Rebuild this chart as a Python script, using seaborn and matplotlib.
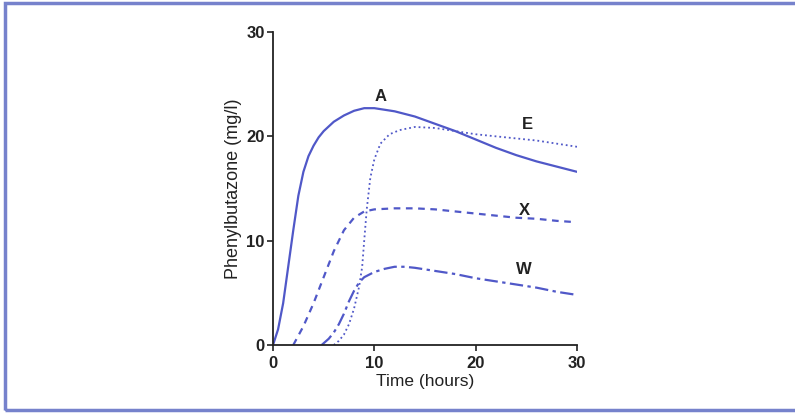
import matplotlib
matplotlib.use("Agg")
import matplotlib.pyplot as plt
import seaborn as sns
import pandas as pd
from matplotlib.patches import Rectangle

# Phenylbutazone plasma concentration curves
t_a = [0, 0.5, 1, 1.5, 2, 2.5, 3, 3.5, 4, 4.5, 5, 6, 7, 8, 9, 10, 12, 14, 16, 18, 20, 22, 24, 26, 28, 30]
v_a = [0, 1.5, 4, 7.5, 11, 14.3, 16.6, 18.1, 19.1, 19.9, 20.5, 21.4, 22.0, 22.45, 22.7, 22.7, 22.4, 21.9, 21.2, 20.5, 19.7, 18.9, 18.2, 17.6, 17.1, 16.6]

t_e = [6, 6.5, 7, 7.5, 8, 8.5, 8.8, 9, 9.25, 9.6, 10, 10.6, 11.5, 12.5, 14, 16, 18, 20, 22, 24, 26, 28, 30]
v_e = [0, 0.4, 1.0, 2.0, 3.5, 5.6, 7.5, 10, 13, 16, 17.8, 19.3, 20.2, 20.6, 20.9, 20.8, 20.5, 20.2, 20.0, 19.8, 19.6, 19.3, 19.0]

t_x = [2, 3, 4, 5, 6, 7, 8, 9, 10, 12, 14, 16, 18, 20, 22, 24, 26, 28, 29.5]
v_x = [0, 1.8, 4, 6.5, 9, 11, 12.2, 12.8, 13, 13.1, 13.1, 13, 12.8, 12.6, 12.4, 12.2, 12.1, 11.9, 11.8]

t_w = [4.8, 5.5, 6, 6.5, 7, 7.5, 8, 8.5, 9, 10, 11, 12, 13, 14, 16, 18, 20, 22, 24, 26, 28, 30]
v_w = [0, 0.6, 1.2, 2.0, 3.0, 4.2, 5.2, 6.0, 6.5, 7.0, 7.3, 7.5, 7.5, 7.4, 7.1, 6.8, 6.4, 6.1, 5.8, 5.5, 5.1, 4.8]

labels = ["A", "E", "X", "W"]
label_pos = [(10.6, 23.8), (25.1, 21.1), (24.8, 12.9), (24.8, 7.2)]

sns.set_style("ticks")
plt.rcParams["font.family"] = ["Liberation Sans", "DejaVu Sans"]

blue = "#5058c8"
ink = "#222222"

fig = plt.figure(figsize=(7.95, 4.13), dpi=100)
ax = fig.add_axes([0.3434, 0.1646, 0.3824, 0.7579])

series = [
    (t_a, v_a, "-", 1.6),
    (t_e, v_e, ":", 1.3),
    (t_x, v_x, (0, (3, 2.5)), 1.6),
    (t_w, v_w, (0, (6, 2, 1.5, 2)), 1.6),
]
for t, v, ls, lw in series:
    df = pd.DataFrame({"t": t, "v": v})
    sns.lineplot(data=df, x="t", y="v", ax=ax, color=blue, linestyle=ls, linewidth=lw)

for lab, (x, y) in zip(labels, label_pos):
    ax.text(x, y, lab, fontsize=12, fontweight="bold", color=ink, ha="center", va="center")

ax.set_xlim(0, 30)
ax.set_ylim(0, 30)
ax.set_xticks([0, 10, 20, 30])
ax.set_yticks([0, 10, 20, 30])
ax.tick_params(labelsize=12, length=4, width=1.2, color=ink, labelcolor=ink, pad=2)
ax.tick_params(axis="x", pad=4)
for lbl in ax.get_xticklabels() + ax.get_yticklabels():
    lbl.set_fontweight("bold")
ax.set_xlabel("Time (hours)", fontsize=12.5, labelpad=2, color=ink)
ax.set_ylabel("Phenylbutazone (mg/l)", fontsize=13, labelpad=3, color=ink)
sns.despine(ax=ax)
for s in ["left", "bottom"]:
    ax.spines[s].set_linewidth(1.3)
    ax.spines[s].set_color(ink)

# blue frame around the figure
fig.patches.append(Rectangle((0.006, 0.007), 1.1, 0.985, transform=fig.transFigure,
                             fill=False, edgecolor="#7682cc", linewidth=2.5))

fig.savefig("out.png", dpi=100)
